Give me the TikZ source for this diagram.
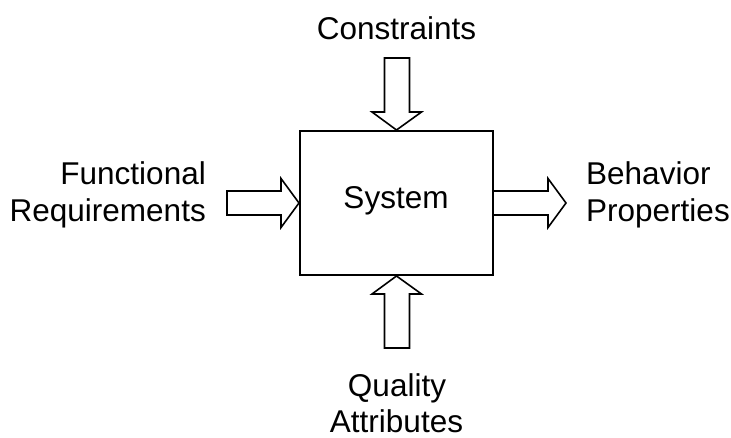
\documentclass[tikz,border=0pt]{standalone}
\usepackage{fontspec}
\setmainfont{Liberation Sans}
\usetikzlibrary{calc}
\begin{document}
\begin{tikzpicture}[x=1pt,y=-1pt,
  lbl/.style={inner sep=0pt,font=\fontsize{31.5}{37}\selectfont},
  sysbox/.style={draw,line width=2pt,minimum width=193pt,minimum height=144pt,inner sep=0pt},
  barrow/.style={draw,fill=white,line width=1.6pt,line join=miter}]
\useasboundingbox (0,0) rectangle (731,437);
\node[sysbox] (sys) at (396.5,203) {};
\node[lbl,anchor=base] (systxt) at (396,208.5) {System};
% labels
\node[lbl,anchor=base] (con) at (396.5,39) {Constraints};
\node[lbl,anchor=base east] (fr1) at (206,184) {Functional};
\node[lbl,anchor=base east] (fr2) at (206,221) {Requirements};
\node[lbl,anchor=base west] (bp1) at (586,184) {Behavior};
\node[lbl,anchor=base west] (bp2) at (586,221) {Properties};
\node[lbl,anchor=base] (qa1) at (397,396.5) {Quality};
\node[lbl,anchor=base] (qa2) at (396.5,432.5) {Attributes};
% top arrow (into box)
\draw[barrow] (sys.north) -- ++(-24.5,-18) -- ++(12.5,0) -- ++(0,-54) -- ++(25,0) -- ++(0,54) -- ++(12,0) -- cycle;
% bottom arrow (into box)
\draw[barrow] (sys.south) -- ++(-24.5,18) -- ++(12.5,0) -- ++(0,54) -- ++(25,0) -- ++(0,-54) -- ++(12,0) -- cycle;
% left arrow (into box)
\draw[barrow] (sys.west) -- ++(-18,-24.5) -- ++(0,12.5) -- ++(-54,0) -- ++(0,24) -- ++(54,0) -- ++(0,12.5) -- cycle;
% right arrow (out of box)
\draw[barrow] ($(sys.east)+(0,-12)$) -- ++(54,0) -- ++(0,-12.5) -- ++(18,24.5) -- ++(-18,24.5) -- ++(0,-12.5) -- ++(-54,0);
\end{tikzpicture}
\end{document}
